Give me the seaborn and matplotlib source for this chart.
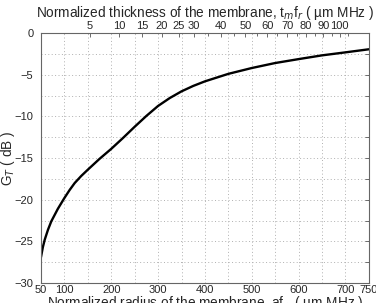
import numpy as np
import pandas as pd
import matplotlib
matplotlib.use("Agg")
import matplotlib.pyplot as plt
from matplotlib.ticker import FixedLocator, FixedFormatter
import seaborn as sns

# values
radius = [50, 54, 58, 65, 72, 86, 100, 111, 122, 136, 150, 175, 200, 225, 250, 275, 300, 325, 350, 375,
          400, 450, 500, 550, 600, 650, 700, 750]
gain = [-26.9, -25.7, -24.8, -23.6, -22.6, -21.1, -19.8, -18.85, -18.0, -17.15, -16.4, -15.1, -13.9,
        -12.6, -11.25, -9.95, -8.75, -7.8, -7.0, -6.35, -5.8, -4.9, -4.2, -3.6, -3.13, -2.68, -2.32, -1.95]

x_ticks = list(range(50, 751, 50))
x_labels = ["50", "100", "200", "300", "400", "500", "600", "700", "750"]
y_ticks = list(np.arange(-30, 0.1, 2.5))
thick_ticks = [5, 10, 15, 20, 25, 30, 40, 50, 60, 70, 80, 90, 100]
thick_minor = [35, 45, 55, 65, 75, 85, 95, 105]

k = 100 / 688.0**2  # thickness = k * radius^2

df = pd.DataFrame({"radius": radius, "gain": gain})

sns.set_style("white")
plt.rcParams['font.family'] = ['Liberation Sans', 'DejaVu Sans']

fig, ax = plt.subplots(figsize=(3.76, 3.03), dpi=100)
fig.subplots_adjust(left=0.109, right=0.981, top=0.891, bottom=0.066)

sns.lineplot(data=df, x="radius", y="gain", color="black", lw=1.7, ax=ax)

ax.set_xlim(50, 750)
ax.set_ylim(-30, 0)
ax.xaxis.set_major_locator(FixedLocator(x_ticks))
ax.xaxis.set_major_formatter(FixedFormatter([str(v) if str(v) in x_labels else "" for v in x_ticks]))
ax.yaxis.set_major_locator(FixedLocator(y_ticks))
ax.yaxis.set_major_formatter(FixedFormatter(["\u2212%d" % abs(v) if v % 5 == 0 and v != 0 else ("0" if v == 0 else "") for v in y_ticks]))

ax.grid(True, linestyle=(0, (1, 2.5)), color="#b0b0b0", lw=0.7)
ax.tick_params(direction="in", length=3, width=0.6, color="#555555", labelsize=8,
               right=True, top=False)
ax.tick_params(axis="y", pad=5.5)
ax.tick_params(axis="x", pad=1.5)
for s in ax.spines.values():
    s.set_color("#666666")
    s.set_linewidth(0.8)

ax.set_xlabel("Normalized radius of the membrane, af$_r$  ( \u00b5m MHz )", fontsize=9.8, labelpad=-1)
ax.set_ylabel("G$_T$ ( dB )", fontsize=9.8)
ax.yaxis.set_label_coords(-0.072, 0.5)

top = ax.secondary_xaxis("top", functions=(lambda a: k * np.asarray(a)**2,
                                           lambda t: np.sqrt(np.abs(t) / k)))
top.xaxis.set_major_locator(FixedLocator(thick_ticks))
top.xaxis.set_minor_locator(FixedLocator(thick_minor))
top.tick_params(which="both", direction="in", width=0.6, color="#555555", labelsize=8, pad=1.5)
top.tick_params(which="major", length=3)
top.tick_params(which="minor", length=2)
top.spines["top"].set_visible(False)
top.set_xlabel("Normalized thickness of the membrane, t$_m$f$_r$ ( \u00b5m MHz )", fontsize=9.8, labelpad=2.5)

plt.savefig("out.png", dpi=100)
